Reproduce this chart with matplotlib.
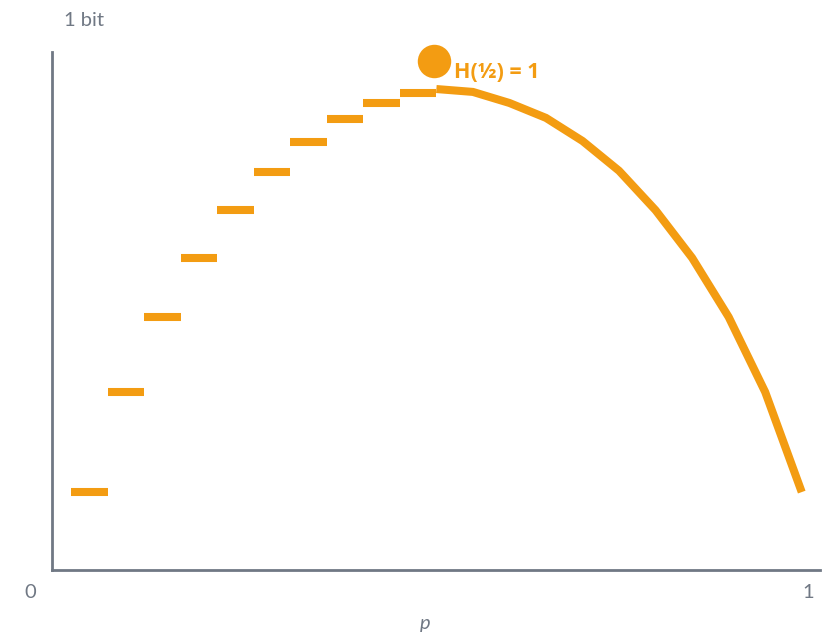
import matplotlib.pyplot as plt

# category positions along p (21 evenly spaced points)
p_pts = [0.00, 0.05, 0.10, 0.15, 0.20, 0.25, 0.30, 0.35, 0.40, 0.45, 0.50,
         0.55, 0.60, 0.65, 0.70, 0.75, 0.80, 0.85, 0.90, 0.95, 1.00]

# left half: drawn as flat steps (bits)
step_vals = [0.162, 0.370, 0.526, 0.649, 0.748, 0.827, 0.889, 0.937, 0.971, 0.992]
# right half: continuous curve (bits), starts at the peak
curve_vals = [1.000, 0.994, 0.971, 0.940, 0.892, 0.830, 0.748, 0.649, 0.526, 0.370, 0.162]

peak_p = 0.497
peak_dot = 1.058

orange = '#F39C12'
grey = '#707884'

fig = plt.figure(figsize=(8.28, 6.38), dpi=100)
ax = fig.add_axes([52/828, 68/638, 768/828, 518/638])

n = len(step_vals)
ax.hlines(step_vals, p_pts[:n], p_pts[1:n+1], colors=orange, linewidth=5.8, capstyle='butt')
ax.plot(p_pts[n:], curve_vals, color=orange, linewidth=5.8, solid_capstyle='butt', solid_joinstyle='miter')
ax.scatter([peak_p], [peak_dot], s=580, color=orange, zorder=3, linewidths=0, clip_on=False)
ax.annotate('H(½) = 1', (peak_p, peak_dot), xytext=(14, -8), textcoords='offset points',
            color=orange, fontsize=15.5, fontweight='bold', family='Open Sans', va='center')

ax.set_xlim(-0.026, 1.025)
ax.set_ylim(0, 1.077)
ax.set_xticks([])
ax.set_yticks([])
for s in ['top', 'right']:
    ax.spines[s].set_visible(False)
for s in ['left', 'bottom']:
    ax.spines[s].set_color(grey)
    ax.spines[s].set_linewidth(2)

txt = dict(color=grey, fontsize=14.5, family='Lato')
fig.text(30/828, 1 - 593/638, '0', ha='center', va='center', **txt)
fig.text(808/828, 1 - 593/638, '1', ha='center', va='center', **txt)
fig.text(84/828, 1 - 20/638, '1 bit', ha='center', va='center', **txt)
fig.text(425/828, 1 - 624/638, 'p', ha='center', va='center', style='italic', **txt)

fig.savefig('out.png', dpi=100)
